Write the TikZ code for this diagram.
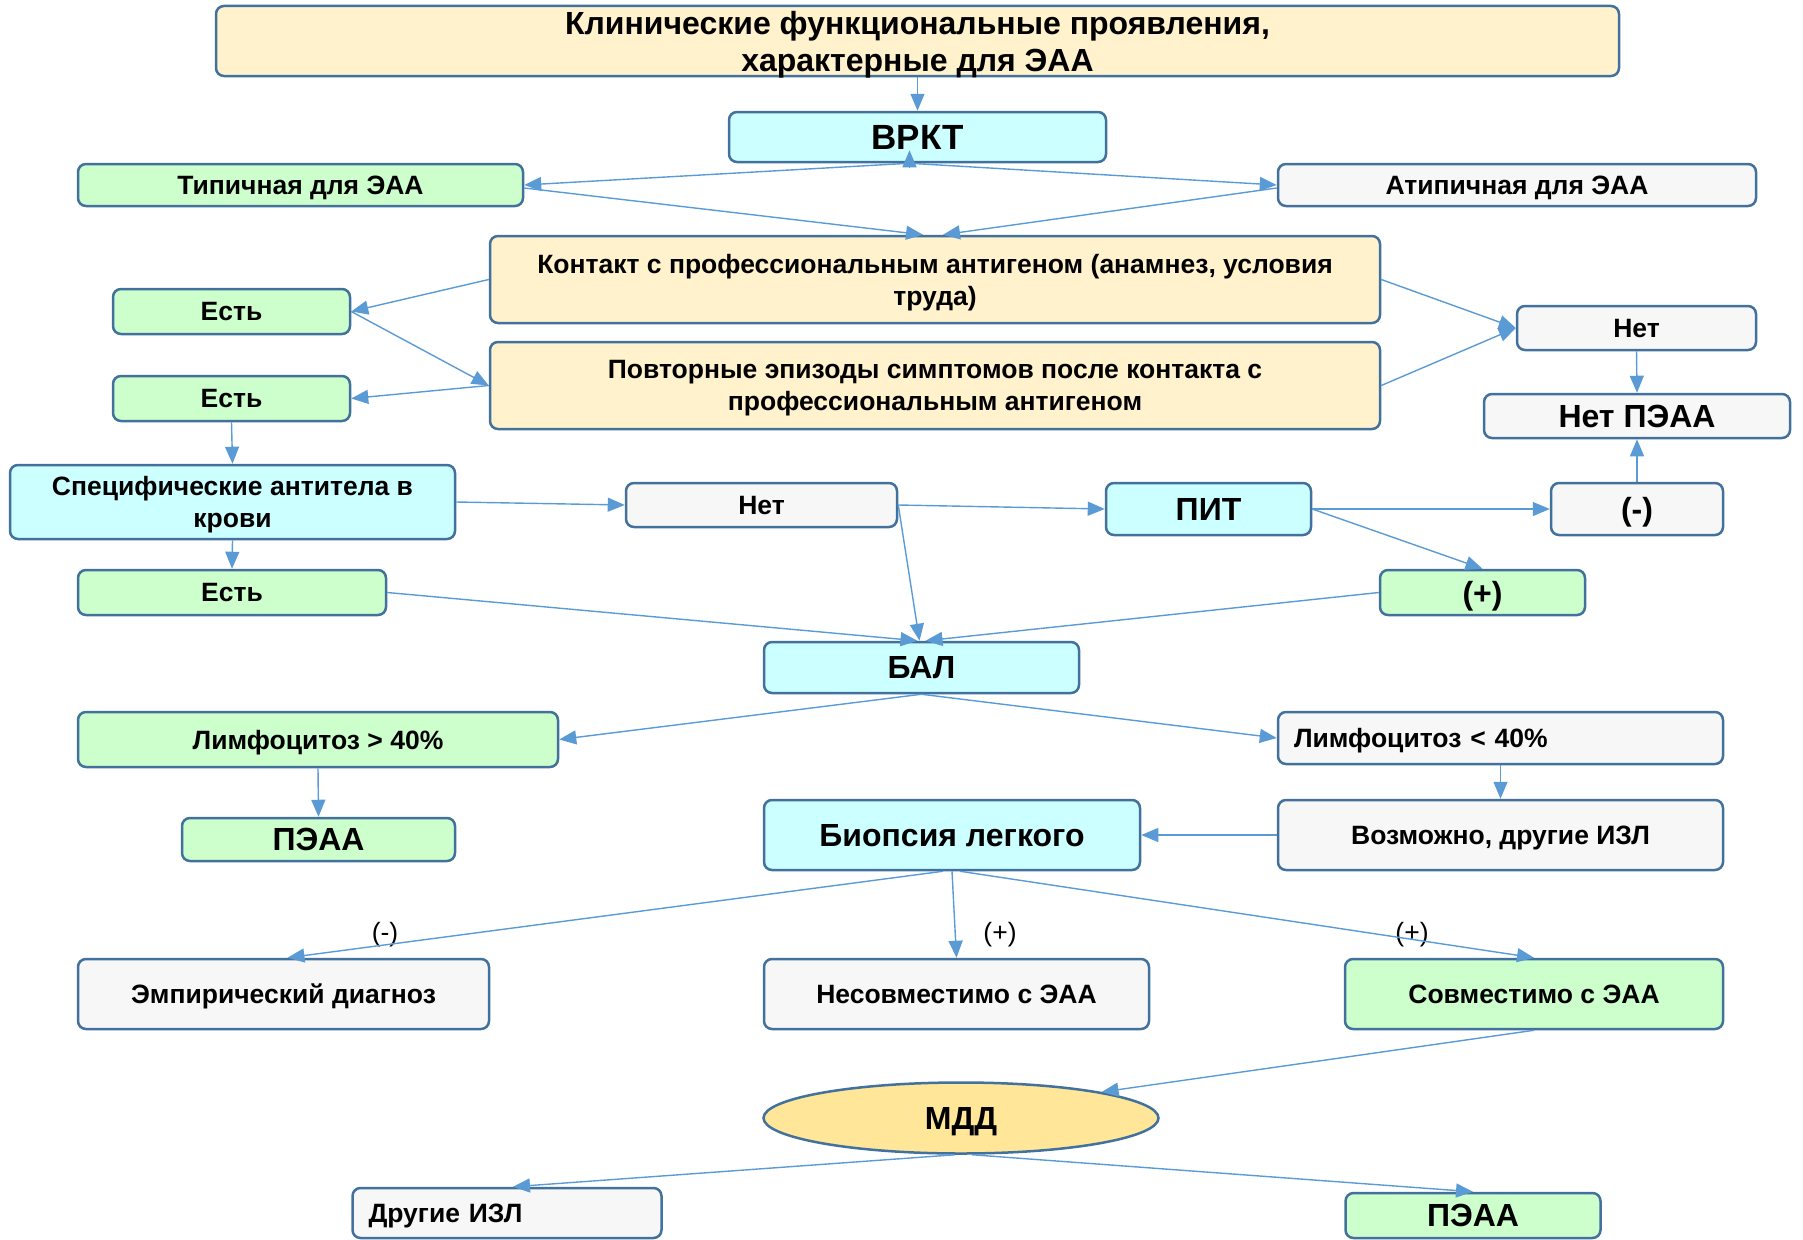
\documentclass[tikz,border=0pt]{standalone}
\usepackage{fontspec}
\setmainfont{Liberation Sans}
\usetikzlibrary{arrows.meta,calc,shapes.geometric}
\definecolor{bd}{HTML}{41719C}
\definecolor{arc}{HTML}{5B9BD5}
\definecolor{cy}{HTML}{CCFFFF}
\definecolor{gr}{HTML}{CCFFCC}
\definecolor{ye}{HTML}{FFF2CC}
\definecolor{gy}{HTML}{F7F7F7}
\definecolor{el}{HTML}{FFE699}
\begin{document}
\begin{tikzpicture}[x=1pt,y=-1pt,
  bx/.style={draw=bd, line width=2.5pt, rounded corners=8pt, align=center, inner sep=0pt,
    text depth=0pt, font=\bfseries\fontsize{26.5}{32}\selectfont},
  big/.style={font=\bfseries\fontsize{32}{38}\selectfont},
  cyb/.style={bx, fill=cy},
  grb/.style={bx, fill=gr},
  yeb/.style={bx, fill=ye},
  gyb/.style={bx, fill=gy},
  sz/.style n args={2}{minimum width=#1pt, minimum height=#2pt},
  lab/.style={inner sep=0pt, text depth=0pt, font=\fontsize{26.5}{30}\selectfont},
  arr/.style={draw=arc, line width=1.4pt, -{Triangle[length=17pt,width=14pt]}, arc},
]
\useasboundingbox (0,0) rectangle (1803,1239);

\node[yeb, sz={1403}{70}, font=\bfseries\fontsize{32}{37}\selectfont] (title) at (917.5,41) {Клинические функциональные проявления,\\характерные для ЭАА};
\node[cyb, sz={377}{50}, font=\bfseries\fontsize{35}{40}\selectfont] (vrkt) at (917.5,137) {ВРКТ};
\node[grb, sz={445}{42}] (typ) at (300.5,185) {Типичная для ЭАА};
\node[gyb, sz={478}{42}] (atyp) at (1517,185) {Атипичная для ЭАА};
\node[yeb, sz={890}{87}] (contact) at (935,279.5) {Контакт с профессиональным антигеном (анамнез, условия\\труда)};
\node[grb, sz={237}{45}] (est1) at (231.5,311.5) {Есть};
\node[gyb, sz={239}{44}] (net1) at (1636.5,328) {Нет};
\node[yeb, sz={890}{87}] (repeat) at (935,385.5) {Повторные эпизоды симптомов после контакта с\\профессиональным антигеном};
\node[grb, sz={237}{45}] (est2) at (231.5,398.5) {Есть};
\node[gyb, sz={306}{44}, big] (netpeaa) at (1637,416) {Нет ПЭАА};
\node[cyb, sz={445}{74}] (spec) at (232.5,502) {Специфические антитела в\\крови};
\node[gyb, sz={271}{44}] (net2) at (761.5,505) {Нет};
\node[cyb, sz={205}{52}, big] (pit) at (1208.5,509) {ПИТ};
\node[gyb, sz={172}{52}, big] (minus) at (1637,509) {(-)};
\node[grb, sz={308}{45}] (est3) at (232,592.5) {Есть};
\node[grb, sz={205}{45}, big] (plus) at (1482.5,592.5) {(+)};
\node[cyb, sz={315}{51}, big] (bal) at (921.5,667.5) {БАЛ};
\node[grb, sz={480}{55}] (lym1) at (318,739.5) {Лимфоцитоз > 40\%};
\node[gyb, sz={445}{52}, align=left, text width=413pt, inner xsep=16pt] (lym2) at (1500.5,738) {Лимфоцитоз < 40\%};
\node[grb, sz={273}{43}, big] (peaa1) at (318.5,839.5) {ПЭАА};
\node[cyb, sz={376}{70}, big] (biop) at (952,835) {Биопсия легкого};
\node[gyb, sz={445}{70}] (vozm) at (1500.5,835) {Возможно, другие ИЗЛ};
\node[gyb, sz={411}{70}] (emp) at (283.5,994) {Эмпирический диагноз};
\node[gyb, sz={385}{70}] (nesov) at (956.5,994) {Несовместимо с ЭАА};
\node[grb, sz={378}{70}] (sovm) at (1534,994) {Совместимо с ЭАА};
\node[ellipse, draw=bd, line width=2.5pt, fill=el, sz={395}{71}, inner sep=0pt, text depth=0pt, big] (mdd) at (961,1118) {МДД};
\node[gyb, sz={309}{50}, align=left, text width=277pt, inner xsep=16pt] (other) at (507,1213) {Другие ИЗЛ};
\node[grb, sz={255}{45}, big] (peaa2) at (1473,1215.5) {ПЭАА};

\node[lab] (lminus) at (385,932) {(-)};
\node[lab] (lplus1) at (1000,932) {(+)};
\node[lab] (lplus2) at (1412,932) {(+)};

\draw[arr] (title.south) -- (vrkt.north);
\draw[arr] ($(vrkt.south)+(-8,0)$) -- (typ.east);
\draw[arr] ($(vrkt.south)+(-8,0)$) -- (atyp.west);
\draw[arr] ($(vrkt.south)+(-8,4)$) -- ($(vrkt.south)+(-8,-13)$);
\draw[arr] ($(typ.east)+(0,3)$) -- ($(contact.north)+(-12,0)$);
\draw[arr] ($(atyp.west)+(0,3)$) -- ($(contact.north)+(8,0)$);
\draw[arr] (contact.west) -- (est1.east);
\draw[arr] (est1.east) -- (repeat.west);
\draw[arr] (repeat.west) -- (est2.east);
\draw[arr] (contact.east) -- (net1.west);
\draw[arr] (repeat.east) -- (net1.west);
\draw[arr] (net1.south) -- (netpeaa.north);
\draw[arr] (minus.north) -- (netpeaa.south);
\draw[arr] (est2.south) -- (spec.north);
\draw[arr] (spec.east) -- (net2.west);
\draw[arr] (spec.south) -- (est3.north);
\draw[arr] (net2.east) -- (pit.west);
\draw[arr] (net2.east) -- ($(bal.north)+(-2,0)$);
\draw[arr] (pit.east) -- (minus.west);
\draw[arr] (pit.east) -- (plus.north);
\draw[arr] (plus.west) -- ($(bal.north)+(4,0)$);
\draw[arr] (est3.east) -- ($(bal.north)+(-4,0)$);
\draw[arr] (bal.south) -- (lym1.east);
\draw[arr] (bal.south) -- (lym2.west);
\draw[arr] (lym1.south) -- (peaa1.north);
\draw[arr] (lym2.south) -- (vozm.north);
\draw[arr] (vozm.west) -- (biop.east);
\draw[arr] ($(biop.south)+(-9,0)$) -- ($(emp.north)+(4,0)$);
\draw[arr] (biop.south) -- (nesov.north);
\draw[arr] ($(biop.south)+(8,0)$) -- (sovm.north);
\draw[arr] (sovm.south) -- (mdd.north east);
\draw[arr] ($(mdd.south)+(-6,0)$) -- ($(other.north)+(6,0)$);
\draw[arr] ($(mdd.south)+(11,0)$) -- (peaa2.north);
\end{tikzpicture}
\end{document}
